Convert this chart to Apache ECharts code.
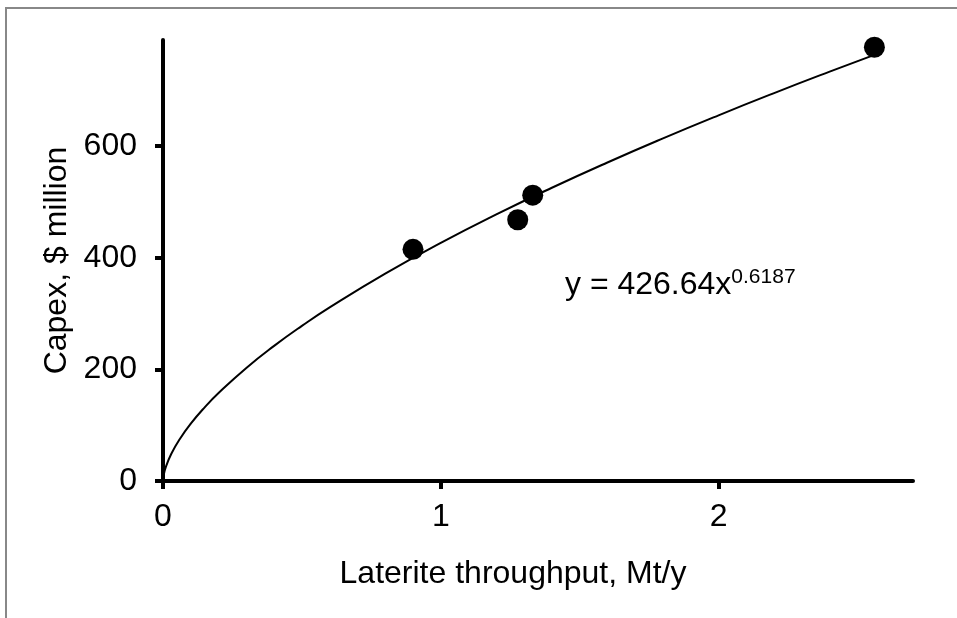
<!DOCTYPE html>
<html>
<head>
<meta charset="utf-8">
<script src="https://cdn.jsdelivr.net/npm/echarts@6/dist/echarts.min.js"></script>
<style>
  html, body { margin: 0; padding: 0; background: #fff; }
  #frame { position: absolute; left: 5px; top: 7px; width: 960px; height: 620px; border: 2px solid #888; box-sizing: border-box; }
  #chart { width: 957px; height: 618px; position: absolute; left: 0; top: 0; }
</style>
</head>
<body>
<div id="frame"></div>
<div id="chart"></div>
<script>
// data
const throughput = [0.9, 1.277, 1.331, 2.561]
const capex = [415, 468, 512, 777]
const yTicks = [0, 200, 400, 600]
const xTicks = [0, 1, 2]

// power trend line shown on the chart: y = 426.64 x^0.6187
const trendA = 426.64
const trendB = 0.6187
const trendX = [0, 0.002, 0.01, 0.03, 0.06, 0.1, 0.15, 0.2, 0.3, 0.4, 0.5, 0.6, 0.8, 1, 1.2, 1.4, 1.6, 1.8, 2, 2.2, 2.4, 2.561]

const chart = echarts.init(document.getElementById('chart'))

const axisText = { fontFamily: 'Liberation Sans, Arial', fontSize: 32, color: '#000' }

const option = {
  animation: false,
  grid: { left: 163, right: 44, top: 40, bottom: 137 },
  xAxis: {
    type: 'value',
    min: 0,
    max: 2.7,
    interval: 1,
    name: 'Laterite throughput, Mt/y',
    nameLocation: 'middle',
    nameGap: 77,
    nameTextStyle: { ...axisText, padding: [0, 50, 0, 0] },
    axisLine: { show: true, onZero: false, lineStyle: { color: '#000', width: 4 } },
    axisTick: { show: true, length: 8, customValues: xTicks, lineStyle: { color: '#000', width: 4 } },
    axisLabel: { ...axisText, margin: 20, customValues: xTicks },
    splitLine: { show: false }
  },
  yAxis: {
    type: 'value',
    min: 0,
    max: 790,
    interval: 200,
    name: 'Capex, $ million',
    nameLocation: 'middle',
    nameGap: 90,
    nameTextStyle: axisText,
    axisLine: { show: true, onZero: false, lineStyle: { color: '#000', width: 4 } },
    axisTick: { show: true, length: 8, customValues: yTicks, lineStyle: { color: '#000', width: 4 } },
    axisLabel: { ...axisText, margin: 26, customValues: yTicks },
    splitLine: { show: false }
  },
  series: [
    {
      type: 'line',
      data: trendX.map(x => [x, trendA * Math.pow(x, trendB)]),
      smooth: true,
      symbol: 'none',
      lineStyle: { color: '#000', width: 2 },
      z: 2
    },
    {
      type: 'scatter',
      data: throughput.map((x, i) => [x, capex[i]]),
      symbol: 'circle',
      symbolSize: 21,
      itemStyle: { color: '#000', opacity: 1 },
      z: 3
    }
  ],
  graphic: [{
    type: 'text',
    left: 565,
    top: 267,
    style: {
      text: '{b|y = 426.64x}{s|0.6187}',
      rich: {
        b: { fontFamily: 'Liberation Sans, Arial', fontSize: 32, fill: '#000', lineHeight: 36 },
        s: { fontFamily: 'Liberation Sans, Arial', fontSize: 21, fill: '#000', lineHeight: 21, verticalAlign: 'top' }
      }
    }
  }]
}

chart.setOption(option)
</script>
</body>
</html>
